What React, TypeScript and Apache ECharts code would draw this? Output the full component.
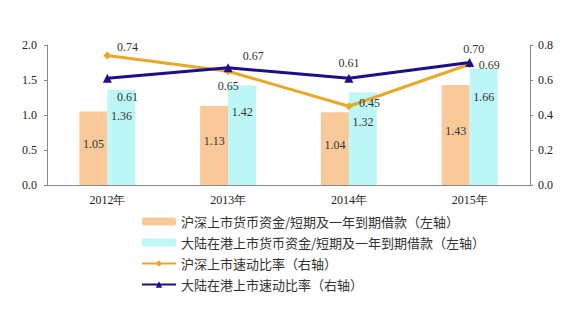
import React, { useEffect, useRef } from "react";
import * as echarts from "echarts";

const categories = ["2012年", "2013年", "2014年", "2015年"];
const shBars = [1.05, 1.13, 1.04, 1.43];
const hkBars = [1.36, 1.42, 1.32, 1.66];
const shQuick = [0.74, 0.65, 0.45, 0.69];
const hkQuick = [0.61, 0.67, 0.61, 0.7];
const leftTicks = [0, 2, 0.5];
const rightTicks = [0, 0.8, 0.2];

const names = [
  "沪深上市货币资金/短期及一年到期借款（左轴）",
  "大陆在港上市货币资金/短期及一年到期借款（左轴）",
  "沪深上市速动比率（右轴）",
  "大陆在港上市速动比率（右轴）",
];

const shLabelPos: any[] = [
  { position: "top", offset: [20, 6] },
  { position: "bottom", offset: [0, 0] },
  { position: "right", offset: [1, -3] },
  { position: "right", offset: [0, 1] },
];
const hkLabelPos: any[] = [
  { position: "bottom", offset: [20, 3] },
  { position: "top", offset: [25, 4] },
  { position: "top", offset: [0, 0] },
  { position: "top", offset: [4, 2] },
];
const hkBarLabelDist = [20, 20, 23, 22];

const serif = "'Liberation Serif', 'DejaVu Serif', serif";

export default function App() {
  const ref = useRef<HTMLDivElement>(null);
  useEffect(() => {
    const chart = echarts.init(ref.current!, null, { renderer: "svg" });
    chart.setOption({
      animation: false,
      backgroundColor: "#ffffff",
      grid: { left: 47, right: 48, top: 45, bottom: 124 },
      legend: {
        orient: "vertical",
        left: 136,
        top: 210,
        itemGap: 8,
        itemWidth: 34,
        itemHeight: 8,
        textStyle: {
          fontFamily: "'Noto Sans CJK SC', sans-serif",
          fontSize: 13,
          color: "#333",
        },
        data: names,
      },
      xAxis: {
        type: "category",
        data: categories,
        axisLine: { lineStyle: { color: "#888" } },
        axisTick: { show: false },
        axisLabel: { fontFamily: serif, fontSize: 12, color: "#222", margin: 9 },
      },
      yAxis: [
        {
          type: "value",
          min: leftTicks[0],
          max: leftTicks[1],
          interval: leftTicks[2],
          splitLine: { show: false },
          axisLine: { show: true, lineStyle: { color: "#888" } },
          axisTick: { show: true, length: 3, lineStyle: { color: "#888" } },
          axisLabel: {
            fontFamily: serif,
            fontSize: 12,
            color: "#222",
            margin: 10,
            formatter: (v: number) => v.toFixed(1),
          },
        },
        {
          type: "value",
          min: rightTicks[0],
          max: rightTicks[1],
          interval: rightTicks[2],
          splitLine: { show: false },
          axisLine: { show: true, lineStyle: { color: "#888" } },
          axisTick: { show: true, length: 3, lineStyle: { color: "#888" } },
          axisLabel: {
            fontFamily: serif,
            fontSize: 12,
            color: "#222",
            margin: 8,
            formatter: (v: number) => v.toFixed(1),
          },
        },
      ],
      series: [
        {
          name: names[0],
          type: "bar",
          yAxisIndex: 0,
          barWidth: 28,
          barGap: "0%",
          itemStyle: { color: "#FAC99A" },
          label: {
            show: true,
            position: "inside",
            offset: [0, -4],
            fontFamily: serif,
            fontSize: 12,
            color: "#333",
            formatter: (p: any) => Number(p.value).toFixed(2),
          },
          data: shBars,
          z: 1,
        },
        {
          name: names[1],
          type: "bar",
          yAxisIndex: 0,
          barWidth: 28,
          barGap: "0%",
          itemStyle: { color: "#BDF7F7" },
          label: {
            show: true,
            position: "insideTop",
            fontFamily: serif,
            fontSize: 12,
            color: "#333",
            formatter: (p: any) => Number(p.value).toFixed(2),
          },
          data: hkBars.map((v, i) => ({ value: v, label: { distance: hkBarLabelDist[i] } })),
          z: 1,
        },
        {
          name: names[2],
          type: "line",
          yAxisIndex: 1,
          symbol: "diamond",
          symbolSize: 8,
          lineStyle: { color: "#E8A82A", width: 3 },
          itemStyle: { color: "#E8A82A" },
          label: {
            show: true,
            fontFamily: serif,
            fontSize: 12,
            color: "#333",
            formatter: (p: any) => Number(p.value).toFixed(2),
          },
          data: shQuick.map((v, i) => ({ value: v, label: shLabelPos[i] })),
          z: 3,
        },
        {
          name: names[3],
          type: "line",
          yAxisIndex: 1,
          symbol: "triangle",
          symbolSize: 9,
          lineStyle: { color: "#1D0E8A", width: 3 },
          itemStyle: { color: "#1D0E8A" },
          label: {
            show: true,
            fontFamily: serif,
            fontSize: 12,
            color: "#333",
            formatter: (p: any) => Number(p.value).toFixed(2),
          },
          data: hkQuick.map((v, i) => ({ value: v, label: hkLabelPos[i] })),
          z: 4,
        },
      ],
    });
    return () => chart.dispose();
  }, []);
  return <div ref={ref} style={{ width: 578, height: 309, position: "absolute", left: 0, top: 0 }} />;
}
